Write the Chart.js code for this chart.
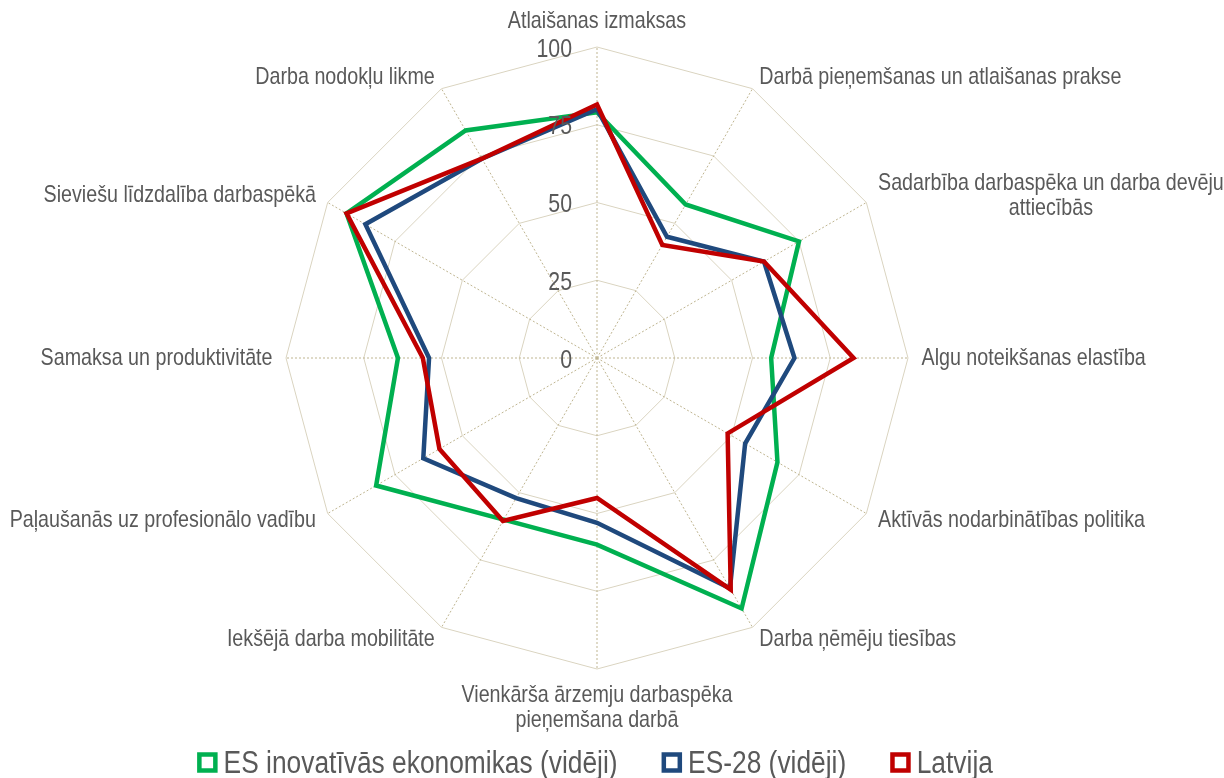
<!DOCTYPE html>
<html>
<head>
<meta charset="utf-8">
<script src="https://cdn.jsdelivr.net/npm/chart.js@4/dist/chart.umd.min.js"></script>
<style>
  html, body { margin: 0; padding: 0; background: #ffffff; overflow: hidden; }
  #wrap { position: relative; width: 1224px; height: 778px; }
</style>
</head>
<body>
<div id="wrap"><canvas id="chart"></canvas></div>
<script>
// Labour-market indicators (0–100), one spoke per category, clockwise from the top
const categories = [
  'Atlaišanas izmaksas',
  'Darbā pieņemšanas un atlaišanas prakse',
  ['Sadarbība darbaspēka un darba devēju', 'attiecībās'],
  'Algu noteikšanas elastība',
  'Aktīvās nodarbinātības politika',
  'Darba ņēmēju tiesības',
  ['Vienkārša ārzemju darbaspēka', 'pieņemšana darbā'],
  'Iekšējā darba mobilitāte',
  'Paļaušanās uz profesionālo vadību',
  'Samaksa un produktivitāte',
  'Sieviešu līdzdalība darbaspēkā',
  'Darba nodokļu likme'
];
const seriesNames = ['ES inovatīvās ekonomikas (vidēji)', 'ES-28 (vidēji)', 'Latvija'];
const esInnovative = [79, 57, 75, 56, 67, 93, 60, 60, 82, 64, 93, 84.5];
const eu28        = [80, 45, 62, 63.5, 55, 85.5, 53, 52, 64.5, 54, 86, 74];
const latvia      = [81.5, 42, 62, 82.5, 48.5, 86, 45, 60.5, 58.5, 56, 93, 74];
const tickValues = [0, 25, 50, 75, 100];

const FONT = "'Liberation Sans', Arial, sans-serif";
const NARROW = 0.82;           // horizontal squeeze for a narrow typeface look
const TEXT = '#595959';
const COLORS = ['#00B050', '#1F497D', '#C00000'];

// draw text squeezed horizontally around its anchor point
function narrowText(ctx, str, x, y, squeeze) {
  ctx.save();
  ctx.translate(x, y);
  ctx.scale(squeeze, 1);
  ctx.fillText(str, 0, 0);
  ctx.restore();
}

// Category names around the web, value labels beside the vertical spoke, and the legend
const webLabels = {
  id: 'webLabels',
  afterDatasetsDraw(chart) {
    const s = chart.scales.r;
    const ctx = chart.ctx;
    ctx.save();
    ctx.fillStyle = TEXT;

    // value labels
    ctx.font = '26px ' + FONT;
    ctx.textAlign = 'right';
    ctx.textBaseline = 'alphabetic';
    tickValues.forEach(v => {
      narrowText(ctx, String(v), s.xCenter - 25, s.yCenter - s.getDistanceFromCenterForValue(v) + 9.5, NARROW);
    });

    // category labels
    ctx.font = '24px ' + FONT;
    ctx.textAlign = 'center';
    ctx.textBaseline = 'middle';
    const lh = 25;
    categories.forEach((lab, i) => {
      const lines = Array.isArray(lab) ? lab : [lab];
      const p = s.getPointPosition(i, s.drawingArea + 13.5);
      const dx = Math.cos(p.angle), dy = Math.sin(p.angle);
      const h = lines.length * lh;
      const w = Math.max(...lines.map(l => ctx.measureText(l).width)) * NARROW;
      let left, top;
      if (Math.abs(dx) < 1e-6) {
        left = p.x - w / 2;
        top = dy < 0 ? p.y - h : p.y;
      } else {
        left = dx > 0 ? p.x : p.x - w;
        top = p.y - h / 2;
      }
      lines.forEach((l, k) => narrowText(ctx, l, left + w / 2, top + lh * k + lh / 2, NARROW));
    });
    ctx.restore();
  },
  afterDraw(chart) {
    const s = chart.scales.r;
    const ctx = chart.ctx;
    const sets = chart.data.datasets;
    const fontSize = 31, squeeze = 0.85;
    const box = 16, boxLine = 4.5, boxGap = 6, itemGap = 44;
    const baseline = 773, boxMid = 762.5;
    ctx.save();
    ctx.font = fontSize + 'px ' + FONT;
    ctx.textAlign = 'left';
    ctx.textBaseline = 'alphabetic';
    const widths = sets.map(d => ctx.measureText(d.label).width * squeeze);
    const outer = box + boxLine;
    const total = widths.reduce((a, w) => a + outer + boxGap + w, 0) + itemGap * (sets.length - 1);
    let x = s.xCenter - 2 - total / 2;
    sets.forEach((d, i) => {
      ctx.fillStyle = '#ffffff';
      ctx.strokeStyle = d.borderColor;
      ctx.lineWidth = boxLine;
      ctx.lineJoin = 'miter';
      ctx.fillRect(x + boxLine / 2, boxMid - box / 2, box, box);
      ctx.strokeRect(x + boxLine / 2, boxMid - box / 2, box, box);
      ctx.fillStyle = TEXT;
      narrowText(ctx, d.label, x + outer + boxGap, baseline, squeeze);
      x += outer + boxGap + widths[i] + itemGap;
    });
    ctx.restore();
  }
};

const makeSet = (label, data, color, order) => ({
  label, data, order,
  borderColor: color,
  backgroundColor: '#ffffff',
  borderWidth: 4.5,
  fill: false,
  pointRadius: 0,
  pointHoverRadius: 0,
  tension: 0,
  borderJoinStyle: 'miter'
});

new Chart(document.getElementById('chart'), {
  type: 'radar',
  data: {
    labels: categories,
    datasets: [
      makeSet(seriesNames[0], esInnovative, COLORS[0], 3),
      makeSet(seriesNames[1], eu28, COLORS[1], 2),
      makeSet(seriesNames[2], latvia, COLORS[2], 1)
    ]
  },
  options: {
    responsive: true,
    maintainAspectRatio: false,
    animation: false,
    events: [],
    layout: { padding: { top: 47, bottom: 109, left: 0, right: 30 } },
    scales: {
      r: {
        min: 0,
        max: 100,
        ticks: { stepSize: 25, display: false },
        grid: { color: '#DAD4C0', lineWidth: 1 },
        angleLines: { color: '#BFB591', lineWidth: 1, borderDash: [2, 2] },
        pointLabels: { display: false }
      }
    },
    plugins: {
      tooltip: { enabled: false },
      legend: { display: false }
    }
  },
  plugins: [webLabels]
});
</script>
</body>
</html>
